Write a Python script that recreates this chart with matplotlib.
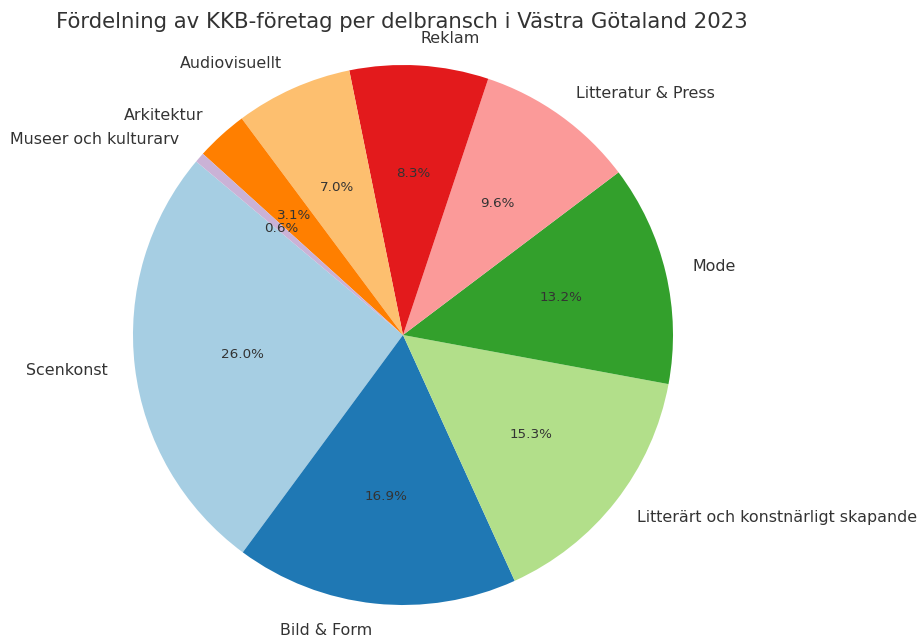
import matplotlib
matplotlib.use("Agg")
import matplotlib.pyplot as plt

plt.rcParams['font.family'] = 'DejaVu Sans'

categories = ["Scenkonst", "Bild & Form", "Litterärt och konstnärligt skapande",
              "Mode", "Litteratur & Press", "Reklam", "Audiovisuellt",
              "Arkitektur", "Museer och kulturarv"]
shares = [26.0, 16.9, 15.3, 13.2, 9.6, 8.3, 7.0, 3.1, 0.6]

colors = plt.cm.Paired.colors[:len(categories)]

fig = plt.figure(figsize=(9.18, 6.37), dpi=100)
# pie centre at (403, 335) px, radius 270 px
W, H = 918, 637
r = 270
lim = 1.25
ax = fig.add_axes([(403 - lim * r) / W, (H - 335 - lim * r) / H,
                   2 * lim * r / W, 2 * lim * r / H])

wedges, texts, autotexts = ax.pie(shares, labels=categories, colors=colors,
                                  autopct='%1.1f%%', startangle=140,
                                  textprops={'fontsize': 11.4, 'color': '#333333'})
for t in autotexts:
    t.set_fontsize(9.7)
ax.set_xlim(-lim, lim)
ax.set_ylim(-lim, lim)
ax.set_aspect('equal')
ax.axis('off')

fig.text(402 / W, 1 - 22 / H, "Fördelning av KKB-företag per delbransch i Västra Götaland 2023",
         ha='center', va='center', fontsize=15.3, color='#333333')

plt.savefig("out.png", dpi=100)
